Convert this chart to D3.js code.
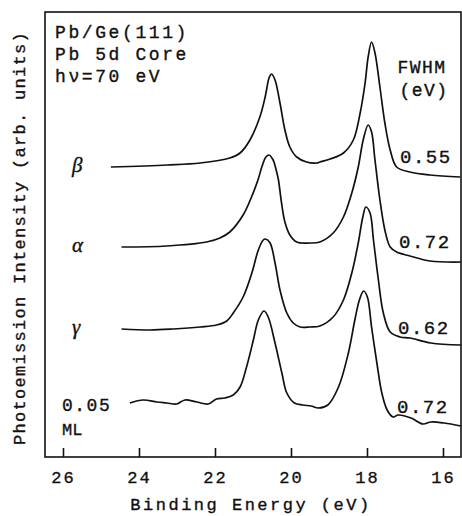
<!DOCTYPE html>
<html>
<head>
<meta charset="utf-8">
<script src="https://cdn.jsdelivr.net/npm/d3@7"></script>
<style>
  body { margin: 0; background: #fff; }
  svg { display: block; }
  text { fill: #111; stroke: #111; stroke-width: 0.35px; }
</style>
</head>
<body>
<div id="chart"></div>
<script>
// Set dimensions
const width = 462;
const height = 516;
const frame = { left: 45, right: 461, top: 12, bottom: 457 };

// Spectra: [binding energy (eV), intensity (arb. units, offset stacked)]
const betaSpec = [[24.74, 290], [23.26, 292], [22.39, 294], [21.61, 299], [21.34, 304], [21.08, 317],
    [20.82, 340], [20.68, 360], [20.57, 380], [20.51, 383], [20.42, 377], [20.29, 354], [20.16, 327],
    [20.03, 310], [19.85, 300], [19.59, 295], [19.32, 294], [19.24, 295], [18.97, 298], [18.62, 304],
    [18.36, 317], [18.18, 344], [18.05, 374], [17.97, 400], [17.88, 415], [17.79, 404], [17.66, 370],
    [17.53, 334], [17.39, 307], [17.22, 290], [16.87, 285], [16.34, 282], [15.55, 280]];
const alphaSpec = [[24.46, 210], [23.27, 211], [22.22, 215], [21.87, 219], [21.61, 225], [21.26, 242],
    [21.05, 259], [20.87, 277], [20.76, 291], [20.66, 300], [20.58, 302], [20.47, 297], [20.39, 287],
    [20.33, 277], [20.26, 257], [20.16, 235], [20.03, 222], [19.85, 215], [19.50, 214], [19.24, 215],
    [18.89, 224], [18.62, 240], [18.40, 264], [18.23, 290], [18.10, 317], [17.97, 332], [17.88, 325],
    [17.79, 297], [17.66, 257], [17.53, 227], [17.39, 210], [17.22, 205], [16.87, 201], [16.34, 196],
    [15.53, 195]];
const gammaSpec = [[24.46, 128], [23.71, 127], [23.10, 128], [22.39, 130], [21.96, 132], [21.69, 136],
    [21.52, 144], [21.26, 160], [21.03, 184], [20.86, 207], [20.73, 217], [20.67, 218], [20.55, 214],
    [20.42, 194], [20.29, 167], [20.11, 144], [19.94, 134], [19.76, 130], [19.50, 130], [19.24, 131],
    [18.89, 140], [18.62, 157], [18.40, 184], [18.23, 214], [18.11, 240], [18.03, 250], [17.92, 244],
    [17.83, 217], [17.70, 177], [17.57, 144], [17.39, 125], [17.13, 120], [16.87, 119], [16.32, 114],
    [15.53, 112]];
const mlSpec = [[24.24, 54], [23.89, 57], [23.53, 55], [23.27, 54], [23.01, 53], [22.79, 57], [22.48, 55],
    [22.18, 53], [21.96, 58], [21.74, 59], [21.52, 62], [21.34, 70], [21.17, 90], [20.99, 117],
    [20.86, 137], [20.71, 146], [20.60, 140], [20.42, 114], [20.24, 84], [20.11, 64], [19.91, 54],
    [19.69, 52], [19.47, 51], [19.28, 49], [19.03, 52], [18.75, 70], [18.49, 104], [18.32, 137],
    [18.20, 157], [18.09, 166], [17.99, 160], [17.88, 130], [17.74, 94], [17.61, 64], [17.47, 47],
    [17.31, 40], [17.18, 42], [16.84, 39], [16.53, 33], [16.32, 35], [15.97, 34], [15.53, 31]];

const spectra = [betaSpec, alphaSpec, gammaSpec, mlSpec];
const phaseLabels = ["β", "α", "γ"];
const fwhmValues = ["0.55", "0.72", "0.62", "0.72"];
const xTicks = [26, 24, 22, 20, 18, 16];
const infoLines = ["Pb/Ge(111)", "Pb 5d Core", "hν=70 eV"];

// Create SVG container
const svg = d3.select("#chart")
    .append("svg")
    .attr("width", width)
    .attr("height", height);

// Scales
const x = d3.scaleLinear().domain([26, 16]).range([63, 443]);
const y = d3.scaleLinear().domain([0, 445]).range([frame.bottom, frame.top]);

const mono = "'Liberation Mono', 'DejaVu Sans Mono', monospace";

// Frame
svg.append("rect")
    .attr("x", frame.left)
    .attr("y", frame.top)
    .attr("width", frame.right - frame.left)
    .attr("height", frame.bottom - frame.top)
    .attr("fill", "none")
    .attr("stroke", "#111")
    .attr("stroke-width", 1.6);

// Bottom axis, ticks pointing inward
const xAxis = svg.append("g")
    .attr("transform", `translate(0,${frame.bottom})`)
    .call(d3.axisBottom(x).tickValues(xTicks).tickSize(-9).tickPadding(14).tickFormat(d3.format("d")));
xAxis.select(".domain").remove();
xAxis.selectAll("line").attr("stroke", "#111").attr("stroke-width", 1.6);
xAxis.selectAll("text")
    .attr("fill", "#111")
    .style("font-family", mono)
    .style("font-size", "17px")
    .style("letter-spacing", "2px");

// Axis titles
svg.append("text")
    .attr("x", 251)
    .attr("y", 510)
    .attr("text-anchor", "middle")
    .style("font-family", mono)
    .style("font-size", "17px")
    .style("letter-spacing", "2.5px")
    .text("Binding Energy (eV)");

svg.append("text")
    .attr("transform", "translate(25,238) rotate(-90)")
    .attr("text-anchor", "middle")
    .style("font-family", mono)
    .style("font-size", "17px")
    .style("letter-spacing", "1.3px")
    .text("Photoemission Intensity (arb. units)");

// Spectra
const line = d3.line()
    .x(d => x(d[0]))
    .y(d => y(d[1]))
    .curve(d3.curveCatmullRom.alpha(0.5));

svg.selectAll(".spec")
    .data(spectra)
    .join("path")
    .attr("class", "spec")
    .attr("d", line)
    .attr("fill", "none")
    .attr("stroke", "#111")
    .attr("stroke-width", 1.7);

// Info text top-left
svg.selectAll(".info")
    .data(infoLines)
    .join("text")
    .attr("class", "info")
    .attr("x", 55)
    .attr("y", (d, i) => 38 + i * 22)
    .style("font-family", mono)
    .style("font-size", "18px")
    .style("letter-spacing", "2.6px")
    .text(d => d);

// Phase labels, placed left of each spectrum's start
svg.selectAll(".phase")
    .data(phaseLabels)
    .join("text")
    .attr("class", "phase")
    .attr("x", 72)
    .attr("y", (d, i) => y(spectra[i][0][1]) + 5)
    .style("font-family", "'Liberation Serif', serif")
    .style("font-style", "italic")
    .style("font-size", "21px")
    .text(d => d);

svg.append("text")
    .attr("x", 62)
    .attr("y", 411)
    .style("font-family", mono)
    .style("font-size", "18px")
    .style("letter-spacing", "1.5px")
    .text("0.05");
svg.append("text")
    .attr("x", 62)
    .attr("y", 435)
    .style("font-family", mono)
    .style("font-size", "17px")
    .text("ML");

// FWHM column
svg.append("text")
    .attr("x", 422)
    .attr("y", 73)
    .attr("text-anchor", "middle")
    .style("font-family", mono)
    .style("font-size", "18px")
    .style("letter-spacing", "1.5px")
    .text("FWHM");
svg.append("text")
    .attr("x", 424)
    .attr("y", 96)
    .attr("text-anchor", "middle")
    .style("font-family", mono)
    .style("font-size", "18px")
    .style("letter-spacing", "1.5px")
    .text("(eV)");

const fwhmY = [163, 248, 334, 413];
svg.selectAll(".fwhm")
    .data(fwhmValues)
    .join("text")
    .attr("class", "fwhm")
    .attr("x", (d, i) => 400 - i)
    .attr("y", (d, i) => fwhmY[i])
    .style("font-family", mono)
    .style("font-size", "19px")
    .style("letter-spacing", "1.5px")
    .text(d => d);
</script>
</body>
</html>
